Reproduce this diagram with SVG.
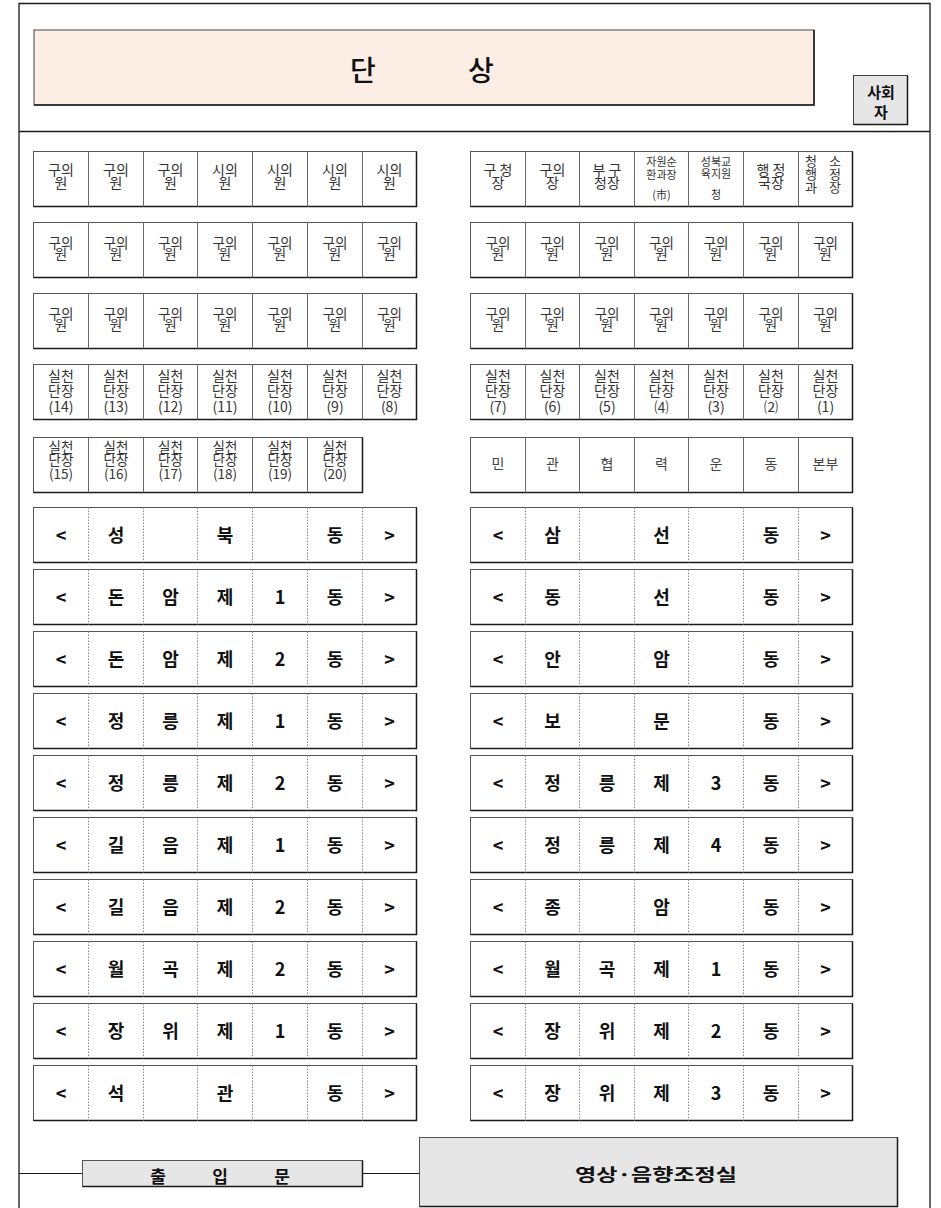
<svg xmlns="http://www.w3.org/2000/svg" width="941" height="1208" viewBox="0 0 941 1208">
<style>
.fr{fill:none;stroke:#1a1a1a;stroke-width:1.3}
.bx{fill:#fff;stroke:#555;stroke-width:1}
.sh{fill:none;stroke:#1a1a1a;stroke-width:1.5}
.sp{fill:none;stroke:#6a6a6a;stroke-width:1}
.dt{fill:none;stroke:#8a8a8a;stroke-width:1;stroke-dasharray:1.5 1.5}
.t{font-family:"Noto Sans CJK KR","Noto Sans",sans-serif;font-size:14px;fill:#333;text-anchor:middle}
.c{font-size:13.5px}
.sm{font-size:11px}
.m{font-size:13px}
.d{font-family:"Noto Sans CJK KR","Noto Sans",sans-serif;font-size:18px;font-weight:bold;fill:#111;text-anchor:middle}
.gy{fill:#e6e6e6}
.h{font-family:"Noto Sans CJK KR","Noto Sans",sans-serif;font-size:28px;font-weight:500;fill:#111;text-anchor:middle}
</style>

<g id="frame">
<path class="fr" d="M19 1208V3.5H930V1208M19 131.5H930"/>
</g>

<g id="stage">
<rect x="34" y="30" width="780" height="75" fill="#fdeee5" stroke="#444" stroke-width="1"/>
<path class="sh" d="M814 30V105H34"/>
<text class="h" x="363" y="81">단</text>
<text class="h" x="481" y="81">상</text>
</g>

<g id="mc">
<rect x="853.5" y="75.5" width="54" height="49" class="gy" stroke="#444" stroke-width="1"/>
<path class="sh" d="M907.5 75.5V124.5H853.5"/>
<text class="d" style="font-size:15px" x="881" y="98">사회</text>
<text class="d" style="font-size:15px" x="881" y="118">자</text>
</g>

<!-- LEFT GRID -->
<g id="L1">
<rect class="bx" x="33.5" y="151.5" width="383" height="55"/>
<path class="sh" d="M416.5 151.5V206.5H33.5"/>
<path class="sp" d="M88.5 151.5V206.5M143.5 151.5V206.5M197.5 151.5V206.5M252.5 151.5V206.5M307.5 151.5V206.5M362.5 151.5V206.5"/>
<text class="t" y="175"><tspan x="61">구의</tspan><tspan x="61" dy="13">원</tspan></text>
<text class="t" y="175"><tspan x="116">구의</tspan><tspan x="116" dy="13">원</tspan></text>
<text class="t" y="175"><tspan x="170.5">구의</tspan><tspan x="170.5" dy="13">원</tspan></text>
<text class="t" y="175"><tspan x="225">시의</tspan><tspan x="225" dy="13">원</tspan></text>
<text class="t" y="175"><tspan x="280">시의</tspan><tspan x="280" dy="13">원</tspan></text>
<text class="t" y="175"><tspan x="335">시의</tspan><tspan x="335" dy="13">원</tspan></text>
<text class="t" y="175"><tspan x="389.5">시의</tspan><tspan x="389.5" dy="13">원</tspan></text>
</g>

<g id="L2">
<rect class="bx" x="33.5" y="222.5" width="383" height="55"/>
<path class="sh" d="M416.5 222.5V277.5H33.5"/>
<path class="sp" d="M88.5 222.5V277.5M143.5 222.5V277.5M197.5 222.5V277.5M252.5 222.5V277.5M307.5 222.5V277.5M362.5 222.5V277.5"/>
<text class="t c" y="247.5"><tspan x="61">구의</tspan><tspan x="61" dy="11.5">원</tspan></text>
<text class="t c" y="247.5"><tspan x="116">구의</tspan><tspan x="116" dy="11.5">원</tspan></text>
<text class="t c" y="247.5"><tspan x="170.5">구의</tspan><tspan x="170.5" dy="11.5">원</tspan></text>
<text class="t c" y="247.5"><tspan x="225">구의</tspan><tspan x="225" dy="11.5">원</tspan></text>
<text class="t c" y="247.5"><tspan x="280">구의</tspan><tspan x="280" dy="11.5">원</tspan></text>
<text class="t c" y="247.5"><tspan x="335">구의</tspan><tspan x="335" dy="11.5">원</tspan></text>
<text class="t c" y="247.5"><tspan x="389.5">구의</tspan><tspan x="389.5" dy="11.5">원</tspan></text>
</g>

<g id="L3">
<rect class="bx" x="33.5" y="293.5" width="383" height="55"/>
<path class="sh" d="M416.5 293.5V348.5H33.5"/>
<path class="sp" d="M88.5 293.5V348.5M143.5 293.5V348.5M197.5 293.5V348.5M252.5 293.5V348.5M307.5 293.5V348.5M362.5 293.5V348.5"/>
<text class="t c" y="318.5"><tspan x="61">구의</tspan><tspan x="61" dy="11.5">원</tspan></text>
<text class="t c" y="318.5"><tspan x="116">구의</tspan><tspan x="116" dy="11.5">원</tspan></text>
<text class="t c" y="318.5"><tspan x="170.5">구의</tspan><tspan x="170.5" dy="11.5">원</tspan></text>
<text class="t c" y="318.5"><tspan x="225">구의</tspan><tspan x="225" dy="11.5">원</tspan></text>
<text class="t c" y="318.5"><tspan x="280">구의</tspan><tspan x="280" dy="11.5">원</tspan></text>
<text class="t c" y="318.5"><tspan x="335">구의</tspan><tspan x="335" dy="11.5">원</tspan></text>
<text class="t c" y="318.5"><tspan x="389.5">구의</tspan><tspan x="389.5" dy="11.5">원</tspan></text>
</g>

<g id="L4">
<rect class="bx" x="33.5" y="364.5" width="383" height="55"/>
<path class="sh" d="M416.5 364.5V419.5H33.5"/>
<path class="sp" d="M88.5 364.5V419.5M143.5 364.5V419.5M197.5 364.5V419.5M252.5 364.5V419.5M307.5 364.5V419.5M362.5 364.5V419.5"/>
<text class="t" y="380.5"><tspan x="61">실천</tspan><tspan x="61" dy="15">단장</tspan><tspan x="61" dy="16">(14)</tspan></text>
<text class="t" y="380.5"><tspan x="116">실천</tspan><tspan x="116" dy="15">단장</tspan><tspan x="116" dy="16">(13)</tspan></text>
<text class="t" y="380.5"><tspan x="170.5">실천</tspan><tspan x="170.5" dy="15">단장</tspan><tspan x="170.5" dy="16">(12)</tspan></text>
<text class="t" y="380.5"><tspan x="225">실천</tspan><tspan x="225" dy="15">단장</tspan><tspan x="225" dy="16">(11)</tspan></text>
<text class="t" y="380.5"><tspan x="280">실천</tspan><tspan x="280" dy="15">단장</tspan><tspan x="280" dy="16">(10)</tspan></text>
<text class="t" y="380.5"><tspan x="335">실천</tspan><tspan x="335" dy="15">단장</tspan><tspan x="335" dy="16">(9)</tspan></text>
<text class="t" y="380.5"><tspan x="389.5">실천</tspan><tspan x="389.5" dy="15">단장</tspan><tspan x="389.5" dy="16">(8)</tspan></text>
</g>

<g id="L5">
<rect class="bx" x="33.5" y="437.5" width="329" height="55"/>
<path class="sh" d="M362.5 437.5V492.5H33.5"/>
<path class="sp" d="M88.5 437.5V492.5M143.5 437.5V492.5M197.5 437.5V492.5M252.5 437.5V492.5M307.5 437.5V492.5"/>
<text class="t c" y="452"><tspan x="61">실천</tspan><tspan x="61" dy="13">단장</tspan><tspan x="61" dy="14">(15)</tspan></text>
<text class="t c" y="452"><tspan x="116">실천</tspan><tspan x="116" dy="13">단장</tspan><tspan x="116" dy="14">(16)</tspan></text>
<text class="t c" y="452"><tspan x="170.5">실천</tspan><tspan x="170.5" dy="13">단장</tspan><tspan x="170.5" dy="14">(17)</tspan></text>
<text class="t c" y="452"><tspan x="225">실천</tspan><tspan x="225" dy="13">단장</tspan><tspan x="225" dy="14">(18)</tspan></text>
<text class="t c" y="452"><tspan x="280">실천</tspan><tspan x="280" dy="13">단장</tspan><tspan x="280" dy="14">(19)</tspan></text>
<text class="t c" y="452"><tspan x="335">실천</tspan><tspan x="335" dy="13">단장</tspan><tspan x="335" dy="14">(20)</tspan></text>
</g>

<!-- RIGHT GRID -->
<g id="R1">
<rect class="bx" x="470.5" y="151.5" width="382" height="55"/>
<path class="sh" d="M852.5 151.5V206.5H470.5"/>
<path class="sp" d="M525.5 151.5V206.5M579.5 151.5V206.5M634.5 151.5V206.5M688.5 151.5V206.5M743.5 151.5V206.5M798.5 151.5V206.5"/>
<text class="t" y="175"><tspan x="490">구</tspan><tspan x="506">청</tspan><tspan x="498" dy="13">장</tspan></text>
<text class="t" y="175"><tspan x="552.5">구의</tspan><tspan x="552.5" dy="13">장</tspan></text>
<text class="t" y="175"><tspan x="599">부</tspan><tspan x="615">구</tspan><tspan x="607" dy="13">청장</tspan></text>
<text class="t sm" y="166"><tspan x="661.5">자원순</tspan><tspan x="661.5" dy="12.5">환과장</tspan><tspan x="661.5" dy="20.5">(市)</tspan></text>
<text class="t sm" y="166"><tspan x="716">성북교</tspan><tspan x="716" dy="11.5">육지원</tspan><tspan x="716" dy="21.5">청</tspan></text>
<text class="t" y="175"><tspan x="763">행</tspan><tspan x="779">정</tspan><tspan x="771" dy="13">국장</tspan></text>
<text class="t m" y="166"><tspan x="811">청</tspan><tspan x="835">소</tspan></text>
<text class="t m" y="179"><tspan x="811">행</tspan><tspan x="835">정</tspan></text>
<text class="t m" y="192"><tspan x="811">과</tspan><tspan x="835">장</tspan></text>
</g>

<g id="R2">
<rect class="bx" x="470.5" y="222.5" width="382" height="55"/>
<path class="sh" d="M852.5 222.5V277.5H470.5"/>
<path class="sp" d="M525.5 222.5V277.5M579.5 222.5V277.5M634.5 222.5V277.5M688.5 222.5V277.5M743.5 222.5V277.5M798.5 222.5V277.5"/>
<text class="t c" y="247.5"><tspan x="498">구의</tspan><tspan x="498" dy="11.5">원</tspan></text>
<text class="t c" y="247.5"><tspan x="552.5">구의</tspan><tspan x="552.5" dy="11.5">원</tspan></text>
<text class="t c" y="247.5"><tspan x="607">구의</tspan><tspan x="607" dy="11.5">원</tspan></text>
<text class="t c" y="247.5"><tspan x="661.5">구의</tspan><tspan x="661.5" dy="11.5">원</tspan></text>
<text class="t c" y="247.5"><tspan x="716">구의</tspan><tspan x="716" dy="11.5">원</tspan></text>
<text class="t c" y="247.5"><tspan x="771">구의</tspan><tspan x="771" dy="11.5">원</tspan></text>
<text class="t c" y="247.5"><tspan x="825.5">구의</tspan><tspan x="825.5" dy="11.5">원</tspan></text>
</g>

<g id="R3">
<rect class="bx" x="470.5" y="293.5" width="382" height="55"/>
<path class="sh" d="M852.5 293.5V348.5H470.5"/>
<path class="sp" d="M525.5 293.5V348.5M579.5 293.5V348.5M634.5 293.5V348.5M688.5 293.5V348.5M743.5 293.5V348.5M798.5 293.5V348.5"/>
<text class="t c" y="318.5"><tspan x="498">구의</tspan><tspan x="498" dy="11.5">원</tspan></text>
<text class="t c" y="318.5"><tspan x="552.5">구의</tspan><tspan x="552.5" dy="11.5">원</tspan></text>
<text class="t c" y="318.5"><tspan x="607">구의</tspan><tspan x="607" dy="11.5">원</tspan></text>
<text class="t c" y="318.5"><tspan x="661.5">구의</tspan><tspan x="661.5" dy="11.5">원</tspan></text>
<text class="t c" y="318.5"><tspan x="716">구의</tspan><tspan x="716" dy="11.5">원</tspan></text>
<text class="t c" y="318.5"><tspan x="771">구의</tspan><tspan x="771" dy="11.5">원</tspan></text>
<text class="t c" y="318.5"><tspan x="825.5">구의</tspan><tspan x="825.5" dy="11.5">원</tspan></text>
</g>

<g id="R4">
<rect class="bx" x="470.5" y="364.5" width="382" height="55"/>
<path class="sh" d="M852.5 364.5V419.5H470.5"/>
<path class="sp" d="M525.5 364.5V419.5M579.5 364.5V419.5M634.5 364.5V419.5M688.5 364.5V419.5M743.5 364.5V419.5M798.5 364.5V419.5"/>
<text class="t" y="380.5"><tspan x="498">실천</tspan><tspan x="498" dy="15">단장</tspan><tspan x="498" dy="16">(7)</tspan></text>
<text class="t" y="380.5"><tspan x="552.5">실천</tspan><tspan x="552.5" dy="15">단장</tspan><tspan x="552.5" dy="16">(6)</tspan></text>
<text class="t" y="380.5"><tspan x="607">실천</tspan><tspan x="607" dy="15">단장</tspan><tspan x="607" dy="16">(5)</tspan></text>
<text class="t" y="380.5"><tspan x="661.5">실천</tspan><tspan x="661.5" dy="15">단장</tspan><tspan x="661.5" dy="16">⑷</tspan></text>
<text class="t" y="380.5"><tspan x="716">실천</tspan><tspan x="716" dy="15">단장</tspan><tspan x="716" dy="16">(3)</tspan></text>
<text class="t" y="380.5"><tspan x="771">실천</tspan><tspan x="771" dy="15">단장</tspan><tspan x="771" dy="16">⑵</tspan></text>
<text class="t" y="380.5"><tspan x="825.5">실천</tspan><tspan x="825.5" dy="15">단장</tspan><tspan x="825.5" dy="16">(1)</tspan></text>
</g>

<g id="R5">
<rect class="bx" x="470.5" y="437.5" width="382" height="55"/>
<path class="sh" d="M852.5 437.5V492.5H470.5"/>
<path class="sp" d="M525.5 437.5V492.5M579.5 437.5V492.5M634.5 437.5V492.5M688.5 437.5V492.5M743.5 437.5V492.5M798.5 437.5V492.5"/>
<text class="t" y="469" style="fill:#444"><tspan x="498">민</tspan><tspan x="552.5">관</tspan><tspan x="607">협</tspan><tspan x="661.5">력</tspan><tspan x="716">운</tspan><tspan x="771">동</tspan><tspan x="825.5">본부</tspan></text>
</g>

<!-- LEFT DONG ROWS -->
<g id="DL1">
<rect class="bx" x="33.5" y="507.5" width="383" height="55"/>
<path class="sh" d="M416.5 507.5V562.5H33.5"/>
<path class="dt" d="M88.5 507.5V562.5M143.5 507.5V562.5M197.5 507.5V562.5M252.5 507.5V562.5M307.5 507.5V562.5M362.5 507.5V562.5"/>
<text class="d" y="541.5"><tspan x="61">&lt;</tspan><tspan x="116">성</tspan><tspan x="225">북</tspan><tspan x="335">동</tspan><tspan x="389.5">&gt;</tspan></text>
</g>
<g id="DL2">
<rect class="bx" x="33.5" y="569.5" width="383" height="55"/>
<path class="sh" d="M416.5 569.5V624.5H33.5"/>
<path class="dt" d="M88.5 569.5V624.5M143.5 569.5V624.5M197.5 569.5V624.5M252.5 569.5V624.5M307.5 569.5V624.5M362.5 569.5V624.5"/>
<text class="d" y="603.5"><tspan x="61">&lt;</tspan><tspan x="116">돈</tspan><tspan x="170.5">암</tspan><tspan x="225">제</tspan><tspan x="280">1</tspan><tspan x="335">동</tspan><tspan x="389.5">&gt;</tspan></text>
</g>
<g id="DL3">
<rect class="bx" x="33.5" y="631.5" width="383" height="55"/>
<path class="sh" d="M416.5 631.5V686.5H33.5"/>
<path class="dt" d="M88.5 631.5V686.5M143.5 631.5V686.5M197.5 631.5V686.5M252.5 631.5V686.5M307.5 631.5V686.5M362.5 631.5V686.5"/>
<text class="d" y="665.5"><tspan x="61">&lt;</tspan><tspan x="116">돈</tspan><tspan x="170.5">암</tspan><tspan x="225">제</tspan><tspan x="280">2</tspan><tspan x="335">동</tspan><tspan x="389.5">&gt;</tspan></text>
</g>
<g id="DL4">
<rect class="bx" x="33.5" y="693.5" width="383" height="55"/>
<path class="sh" d="M416.5 693.5V748.5H33.5"/>
<path class="dt" d="M88.5 693.5V748.5M143.5 693.5V748.5M197.5 693.5V748.5M252.5 693.5V748.5M307.5 693.5V748.5M362.5 693.5V748.5"/>
<text class="d" y="727.5"><tspan x="61">&lt;</tspan><tspan x="116">정</tspan><tspan x="170.5">릉</tspan><tspan x="225">제</tspan><tspan x="280">1</tspan><tspan x="335">동</tspan><tspan x="389.5">&gt;</tspan></text>
</g>
<g id="DL5">
<rect class="bx" x="33.5" y="755.5" width="383" height="55"/>
<path class="sh" d="M416.5 755.5V810.5H33.5"/>
<path class="dt" d="M88.5 755.5V810.5M143.5 755.5V810.5M197.5 755.5V810.5M252.5 755.5V810.5M307.5 755.5V810.5M362.5 755.5V810.5"/>
<text class="d" y="789.5"><tspan x="61">&lt;</tspan><tspan x="116">정</tspan><tspan x="170.5">릉</tspan><tspan x="225">제</tspan><tspan x="280">2</tspan><tspan x="335">동</tspan><tspan x="389.5">&gt;</tspan></text>
</g>
<g id="DL6">
<rect class="bx" x="33.5" y="817.5" width="383" height="55"/>
<path class="sh" d="M416.5 817.5V872.5H33.5"/>
<path class="dt" d="M88.5 817.5V872.5M143.5 817.5V872.5M197.5 817.5V872.5M252.5 817.5V872.5M307.5 817.5V872.5M362.5 817.5V872.5"/>
<text class="d" y="851.5"><tspan x="61">&lt;</tspan><tspan x="116">길</tspan><tspan x="170.5">음</tspan><tspan x="225">제</tspan><tspan x="280">1</tspan><tspan x="335">동</tspan><tspan x="389.5">&gt;</tspan></text>
</g>
<g id="DL7">
<rect class="bx" x="33.5" y="879.5" width="383" height="55"/>
<path class="sh" d="M416.5 879.5V934.5H33.5"/>
<path class="dt" d="M88.5 879.5V934.5M143.5 879.5V934.5M197.5 879.5V934.5M252.5 879.5V934.5M307.5 879.5V934.5M362.5 879.5V934.5"/>
<text class="d" y="913.5"><tspan x="61">&lt;</tspan><tspan x="116">길</tspan><tspan x="170.5">음</tspan><tspan x="225">제</tspan><tspan x="280">2</tspan><tspan x="335">동</tspan><tspan x="389.5">&gt;</tspan></text>
</g>
<g id="DL8">
<rect class="bx" x="33.5" y="941.5" width="383" height="55"/>
<path class="sh" d="M416.5 941.5V996.5H33.5"/>
<path class="dt" d="M88.5 941.5V996.5M143.5 941.5V996.5M197.5 941.5V996.5M252.5 941.5V996.5M307.5 941.5V996.5M362.5 941.5V996.5"/>
<text class="d" y="975.5"><tspan x="61">&lt;</tspan><tspan x="116">월</tspan><tspan x="170.5">곡</tspan><tspan x="225">제</tspan><tspan x="280">2</tspan><tspan x="335">동</tspan><tspan x="389.5">&gt;</tspan></text>
</g>
<g id="DL9">
<rect class="bx" x="33.5" y="1003.5" width="383" height="55"/>
<path class="sh" d="M416.5 1003.5V1058.5H33.5"/>
<path class="dt" d="M88.5 1003.5V1058.5M143.5 1003.5V1058.5M197.5 1003.5V1058.5M252.5 1003.5V1058.5M307.5 1003.5V1058.5M362.5 1003.5V1058.5"/>
<text class="d" y="1037.5"><tspan x="61">&lt;</tspan><tspan x="116">장</tspan><tspan x="170.5">위</tspan><tspan x="225">제</tspan><tspan x="280">1</tspan><tspan x="335">동</tspan><tspan x="389.5">&gt;</tspan></text>
</g>
<g id="DL10">
<rect class="bx" x="33.5" y="1065.5" width="383" height="55"/>
<path class="sh" d="M416.5 1065.5V1120.5H33.5"/>
<path class="dt" d="M88.5 1065.5V1120.5M143.5 1065.5V1120.5M197.5 1065.5V1120.5M252.5 1065.5V1120.5M307.5 1065.5V1120.5M362.5 1065.5V1120.5"/>
<text class="d" y="1099.5"><tspan x="61">&lt;</tspan><tspan x="116">석</tspan><tspan x="225">관</tspan><tspan x="335">동</tspan><tspan x="389.5">&gt;</tspan></text>
</g>

<!-- RIGHT DONG ROWS -->
<g id="DR1">
<rect class="bx" x="470.5" y="507.5" width="382" height="55"/>
<path class="sh" d="M852.5 507.5V562.5H470.5"/>
<path class="dt" d="M525.5 507.5V562.5M579.5 507.5V562.5M634.5 507.5V562.5M688.5 507.5V562.5M743.5 507.5V562.5M798.5 507.5V562.5"/>
<text class="d" y="541.5"><tspan x="498">&lt;</tspan><tspan x="552.5">삼</tspan><tspan x="661.5">선</tspan><tspan x="771">동</tspan><tspan x="825.5">&gt;</tspan></text>
</g>
<g id="DR2">
<rect class="bx" x="470.5" y="569.5" width="382" height="55"/>
<path class="sh" d="M852.5 569.5V624.5H470.5"/>
<path class="dt" d="M525.5 569.5V624.5M579.5 569.5V624.5M634.5 569.5V624.5M688.5 569.5V624.5M743.5 569.5V624.5M798.5 569.5V624.5"/>
<text class="d" y="603.5"><tspan x="498">&lt;</tspan><tspan x="552.5">동</tspan><tspan x="661.5">선</tspan><tspan x="771">동</tspan><tspan x="825.5">&gt;</tspan></text>
</g>
<g id="DR3">
<rect class="bx" x="470.5" y="631.5" width="382" height="55"/>
<path class="sh" d="M852.5 631.5V686.5H470.5"/>
<path class="dt" d="M525.5 631.5V686.5M579.5 631.5V686.5M634.5 631.5V686.5M688.5 631.5V686.5M743.5 631.5V686.5M798.5 631.5V686.5"/>
<text class="d" y="665.5"><tspan x="498">&lt;</tspan><tspan x="552.5">안</tspan><tspan x="661.5">암</tspan><tspan x="771">동</tspan><tspan x="825.5">&gt;</tspan></text>
</g>
<g id="DR4">
<rect class="bx" x="470.5" y="693.5" width="382" height="55"/>
<path class="sh" d="M852.5 693.5V748.5H470.5"/>
<path class="dt" d="M525.5 693.5V748.5M579.5 693.5V748.5M634.5 693.5V748.5M688.5 693.5V748.5M743.5 693.5V748.5M798.5 693.5V748.5"/>
<text class="d" y="727.5"><tspan x="498">&lt;</tspan><tspan x="552.5">보</tspan><tspan x="661.5">문</tspan><tspan x="771">동</tspan><tspan x="825.5">&gt;</tspan></text>
</g>
<g id="DR5">
<rect class="bx" x="470.5" y="755.5" width="382" height="55"/>
<path class="sh" d="M852.5 755.5V810.5H470.5"/>
<path class="dt" d="M525.5 755.5V810.5M579.5 755.5V810.5M634.5 755.5V810.5M688.5 755.5V810.5M743.5 755.5V810.5M798.5 755.5V810.5"/>
<text class="d" y="789.5"><tspan x="498">&lt;</tspan><tspan x="552.5">정</tspan><tspan x="607">릉</tspan><tspan x="661.5">제</tspan><tspan x="716">3</tspan><tspan x="771">동</tspan><tspan x="825.5">&gt;</tspan></text>
</g>
<g id="DR6">
<rect class="bx" x="470.5" y="817.5" width="382" height="55"/>
<path class="sh" d="M852.5 817.5V872.5H470.5"/>
<path class="dt" d="M525.5 817.5V872.5M579.5 817.5V872.5M634.5 817.5V872.5M688.5 817.5V872.5M743.5 817.5V872.5M798.5 817.5V872.5"/>
<text class="d" y="851.5"><tspan x="498">&lt;</tspan><tspan x="552.5">정</tspan><tspan x="607">릉</tspan><tspan x="661.5">제</tspan><tspan x="716">4</tspan><tspan x="771">동</tspan><tspan x="825.5">&gt;</tspan></text>
</g>
<g id="DR7">
<rect class="bx" x="470.5" y="879.5" width="382" height="55"/>
<path class="sh" d="M852.5 879.5V934.5H470.5"/>
<path class="dt" d="M525.5 879.5V934.5M579.5 879.5V934.5M634.5 879.5V934.5M688.5 879.5V934.5M743.5 879.5V934.5M798.5 879.5V934.5"/>
<text class="d" y="913.5"><tspan x="498">&lt;</tspan><tspan x="552.5">종</tspan><tspan x="661.5">암</tspan><tspan x="771">동</tspan><tspan x="825.5">&gt;</tspan></text>
</g>
<g id="DR8">
<rect class="bx" x="470.5" y="941.5" width="382" height="55"/>
<path class="sh" d="M852.5 941.5V996.5H470.5"/>
<path class="dt" d="M525.5 941.5V996.5M579.5 941.5V996.5M634.5 941.5V996.5M688.5 941.5V996.5M743.5 941.5V996.5M798.5 941.5V996.5"/>
<text class="d" y="975.5"><tspan x="498">&lt;</tspan><tspan x="552.5">월</tspan><tspan x="607">곡</tspan><tspan x="661.5">제</tspan><tspan x="716">1</tspan><tspan x="771">동</tspan><tspan x="825.5">&gt;</tspan></text>
</g>
<g id="DR9">
<rect class="bx" x="470.5" y="1003.5" width="382" height="55"/>
<path class="sh" d="M852.5 1003.5V1058.5H470.5"/>
<path class="dt" d="M525.5 1003.5V1058.5M579.5 1003.5V1058.5M634.5 1003.5V1058.5M688.5 1003.5V1058.5M743.5 1003.5V1058.5M798.5 1003.5V1058.5"/>
<text class="d" y="1037.5"><tspan x="498">&lt;</tspan><tspan x="552.5">장</tspan><tspan x="607">위</tspan><tspan x="661.5">제</tspan><tspan x="716">2</tspan><tspan x="771">동</tspan><tspan x="825.5">&gt;</tspan></text>
</g>
<g id="DR10">
<rect class="bx" x="470.5" y="1065.5" width="382" height="55"/>
<path class="sh" d="M852.5 1065.5V1120.5H470.5"/>
<path class="dt" d="M525.5 1065.5V1120.5M579.5 1065.5V1120.5M634.5 1065.5V1120.5M688.5 1065.5V1120.5M743.5 1065.5V1120.5M798.5 1065.5V1120.5"/>
<text class="d" y="1099.5"><tspan x="498">&lt;</tspan><tspan x="552.5">장</tspan><tspan x="607">위</tspan><tspan x="661.5">제</tspan><tspan x="716">3</tspan><tspan x="771">동</tspan><tspan x="825.5">&gt;</tspan></text>
</g>

<g id="connectors">
<path class="fr" style="stroke-width:1" d="M19 1173.5H82.5M362.5 1173.5H419.5"/>
</g>

<g id="entrance">
<rect x="82.5" y="1160.5" width="280" height="26" class="gy" stroke="#555" stroke-width="1"/>
<path class="sh" d="M362.5 1160.5V1186.5H82.5"/>
<text class="d" style="font-size:17px" y="1182.5"><tspan x="158">출</tspan><tspan x="220">입</tspan><tspan x="282">문</tspan></text>
</g>

<g id="control-room">
<rect x="419.5" y="1137.5" width="478" height="69" class="gy" stroke="#555" stroke-width="1"/>
<path class="sh" d="M897.5 1137.5V1206.5H419.5"/>
<text class="d" style="font-size:17px" x="656" y="1181" textLength="162" lengthAdjust="spacingAndGlyphs">영상·음향조정실</text>
</g>
</svg>
